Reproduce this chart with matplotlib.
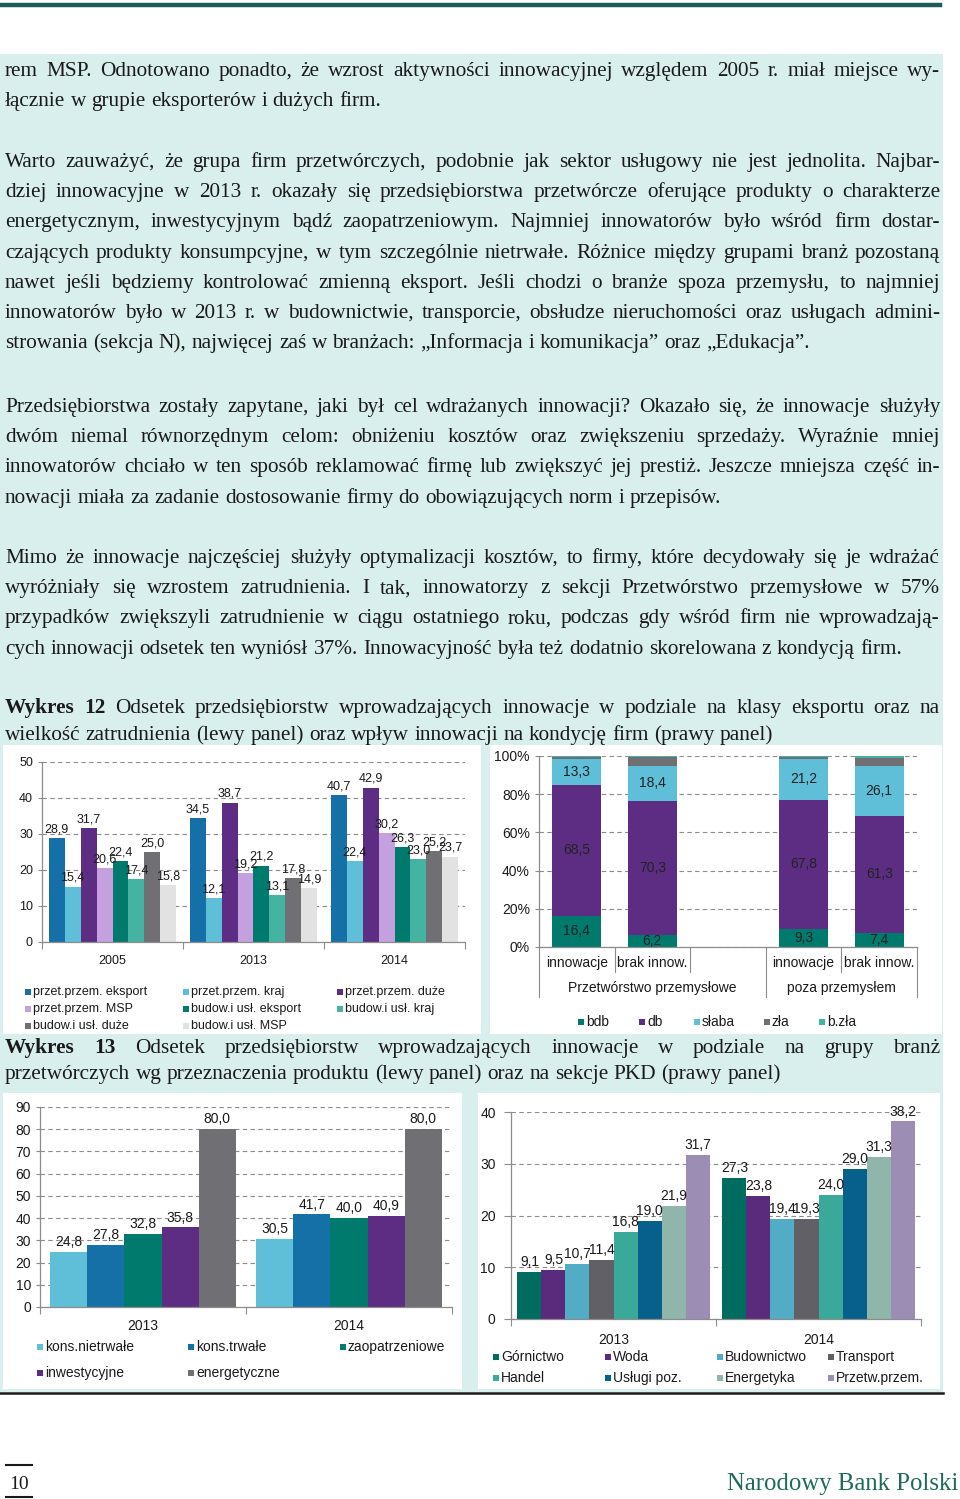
import matplotlib
matplotlib.use('Agg')
import numpy as np
import matplotlib.pyplot as plt
from matplotlib.patches import Rectangle
from matplotlib.lines import Line2D
from matplotlib.transforms import blended_transform_factory

# ---- page text ----
par1 = ["rem MSP. Odnotowano ponadto, że wzrost aktywności innowacyjnej względem 2005 r. miał miejsce wy-",
        "łącznie w grupie eksporterów i dużych firm."]
par2 = ["Warto zauważyć, że grupa firm przetwórczych, podobnie jak sektor usługowy nie jest jednolita. Najbar-",
        "dziej innowacyjne w 2013 r. okazały się przedsiębiorstwa przetwórcze oferujące produkty o charakterze",
        "energetycznym, inwestycyjnym bądź zaopatrzeniowym. Najmniej innowatorów było wśród firm dostar-",
        "czających produkty konsumpcyjne, w tym szczególnie nietrwałe. Różnice między grupami branż pozostaną",
        "nawet jeśli będziemy kontrolować zmienną eksport. Jeśli chodzi o branże spoza przemysłu, to najmniej",
        "innowatorów było w 2013 r. w budownictwie, transporcie, obsłudze nieruchomości oraz usługach admini-",
        "strowania (sekcja N), najwięcej zaś w branżach: „Informacja i komunikacja” oraz „Edukacja”."]
par3 = ["Przedsiębiorstwa zostały zapytane, jaki był cel wdrażanych innowacji? Okazało się, że innowacje służyły",
        "dwóm niemal równorzędnym celom: obniżeniu kosztów oraz zwiększeniu sprzedaży. Wyraźnie mniej",
        "innowatorów chciało w ten sposób reklamować firmę lub zwiększyć jej prestiż. Jeszcze mniejsza część in-",
        "nowacji miała za zadanie dostosowanie firmy do obowiązujących norm i przepisów."]
par4 = ["Mimo że innowacje najczęściej służyły optymalizacji kosztów, to firmy, które decydowały się je wdrażać",
        "wyróżniały się wzrostem zatrudnienia. I tak, innowatorzy z sekcji Przetwórstwo przemysłowe w 57%",
        "przypadków zwiększyli zatrudnienie w ciągu ostatniego roku, podczas gdy wśród firm nie wprowadzają-",
        "cych innowacji odsetek ten wyniósł 37%. Innowacyjność była też dodatnio skorelowana z kondycją firm."]
title12 = ["Wykres 12 Odsetek przedsiębiorstw wprowadzających innowacje w podziale na klasy eksportu oraz na",
           "wielkość zatrudnienia (lewy panel) oraz wpływ innowacji na kondycję firm (prawy panel)"]
title13 = ["Wykres 13 Odsetek przedsiębiorstw wprowadzających innowacje w podziale na grupy branż",
           "przetwórczych wg przeznaczenia produktu (lewy panel) oraz na sekcje PKD (prawy panel)"]

# ---- chart data ----
years12 = ['2005', '2013', '2014']
series12 = ['przet.przem. eksport', 'przet.przem. kraj', 'przet.przem. duże', 'przet.przem. MSP',
            'budow.i usł. eksport', 'budow.i usł. kraj', 'budow.i usł. duże', 'budow.i usł. MSP']
vals12 = [[28.9, 34.5, 40.7],
          [15.4, 12.1, 22.4],
          [31.7, 38.7, 42.9],
          [20.6, 19.2, 30.2],
          [22.4, 21.2, 26.3],
          [17.4, 13.1, 23.0],
          [25.0, 17.8, 25.2],
          [15.8, 14.9, 23.7]]
cols12 = ['#1670a8', '#5fbfd8', '#5c2d82', '#c5a0de', '#007a6c', '#45b3a1', '#707074', '#e2e2e2']

cond_groups = ['Przetwórstwo przemysłowe', 'poza przemysłem']
cond_cats = ['innowacje', 'brak innow.', 'innowacje', 'brak innow.']
cond_series = ['bdb', 'db', 'słaba', 'zła', 'b.zła']
cond_vals = [[16.4, 6.2, 9.3, 7.4],
             [68.5, 70.3, 67.8, 61.3],
             [13.3, 18.4, 21.2, 26.1],
             [1.5, 4.5, 1.4, 4.2],
             [0.3, 0.6, 0.3, 1.0]]
cond_cols = ['#007a6c', '#5c2d82', '#5fbfd8', '#707074', '#45b3a1']

years13 = ['2013', '2014']
prod_series = ['kons.nietrwałe', 'kons.trwałe', 'zaopatrzeniowe', 'inwestycyjne', 'energetyczne']
prod_vals = [[24.8, 30.5],
             [27.8, 41.7],
             [32.8, 40.0],
             [35.8, 40.9],
             [80.0, 80.0]]
prod_cols = ['#5fbfd8', '#1670a8', '#007a6c', '#5c2d82', '#707074']

pkd_series = ['Górnictwo', 'Woda', 'Budownictwo', 'Transport', 'Handel', 'Usługi poz.', 'Energetyka', 'Przetw.przem.']
pkd_vals = [[9.1, 27.3],
            [9.5, 23.8],
            [10.7, 19.4],
            [11.4, 19.3],
            [16.8, 24.0],
            [19.0, 29.0],
            [21.9, 31.3],
            [31.7, 38.2]]
pkd_cols = ['#006b5f', '#5a2a7c', '#52acc6', '#606066', '#3aa99a', '#075f8c', '#90b5ab', '#9c8db4']

W, H = 960, 1499
SERIF = 'Liberation Serif'
SANS = 'Liberation Sans'
TXT = '#1a1a1a'
TEAL_BG = '#d9efed'
GRID = '#8c8c8c'

fig = plt.figure(figsize=(W / 100, H / 100), dpi=100)
fig.patch.set_facecolor('white')
renderer = fig.canvas.get_renderer()


def fx(x):
    return x / W


def fy(y):
    return 1 - y / H


def frect(x0, y0, x1, y1, color, z=0):
    fig.add_artist(Rectangle((fx(x0), fy(y1)), (x1 - x0) / W, (y1 - y0) / H,
                             transform=fig.transFigure, facecolor=color, edgecolor='none', zorder=z))


def fline(x0, y0, x1, y1, color, lw, z=1):
    fig.add_artist(Line2D([fx(x0), fx(x1)], [fy(y0), fy(y1)], transform=fig.transFigure,
                          color=color, lw=lw, zorder=z))


def add_ax(x0, y0, x1, y1):
    return fig.add_axes([fx(x0), fy(y1), (x1 - x0) / W, (y1 - y0) / H])


def text_line(s, y, justify=True, bold=0, x0=5, x1=940, size=15.3):
    words = s.split(' ')
    arts = []
    for i, w in enumerate(words):
        arts.append(fig.text(fx(x0), fy(y), w, fontsize=size, family=SERIF, color=TXT,
                             fontweight='bold' if i < bold else 'normal', va='baseline', zorder=3))
    widths = [a.get_window_extent(renderer).width for a in arts]
    sp = fig.text(0, 0, 'a a', fontsize=size, family=SERIF)
    nsp = fig.text(0, 0, 'aa', fontsize=size, family=SERIF)
    space = sp.get_window_extent(renderer).width - nsp.get_window_extent(renderer).width
    sp.remove()
    nsp.remove()
    gap = space
    if justify and len(words) > 1:
        gap = (x1 - x0 - sum(widths)) / (len(words) - 1)
    x = x0
    for a, w in zip(arts, widths):
        a.set_x(fx(x))
        x += w + gap


def paragraph(lines, y0, step=30.2, bold=0):
    for i, s in enumerate(lines):
        text_line(s, y0 + i * step, justify=(i < len(lines) - 1), bold=bold if i == 0 else 0)


def legend(items, colors, xs, ys, size=9):
    k = 0
    for y in ys:
        for x in xs:
            if k >= len(items):
                return
            frect(x, y - 3, x + 6, y + 3, colors[k], z=3)
            fig.text(fx(x + 8), fy(y), items[k], fontsize=size, family=SANS, color=TXT,
                     va='center', ha='left', zorder=3)
            k += 1


def style_ax(ax, ymax, step, size, pct=False):
    ax.set_facecolor('none')
    ax.set_ylim(0, ymax)
    ticks = np.arange(0, ymax + 0.1, step)
    ax.set_yticks(ticks)
    if pct:
        ax.set_yticklabels([f'{int(t)}%' for t in ticks])
    for s in ['top', 'right']:
        ax.spines[s].set_visible(False)
    for s in ['left', 'bottom']:
        ax.spines[s].set_color(GRID)
        ax.spines[s].set_linewidth(0.9)
    ax.yaxis.grid(True, color=GRID, linestyle=(0, (4, 3)), linewidth=0.8)
    ax.set_axisbelow(True)
    ax.tick_params(axis='y', labelsize=size, colors=GRID, labelcolor=TXT, length=3, width=0.8)
    for lab in ax.get_yticklabels():
        lab.set_family(SANS)


def fmt(v):
    return f'{v:.1f}'.replace('.', ',')


def grouped(ax, cats, vals, cols, group_w, size):
    n = len(vals)
    bw = group_w / n
    x = np.arange(len(cats))
    for j, (v, c) in enumerate(zip(vals, cols)):
        xs = x + (j - (n - 1) / 2) * bw
        ax.bar(xs, v, bw, color=c, zorder=2)
        for xi, vi in zip(xs, v):
            ax.annotate(fmt(vi), (xi, vi), xytext=(0, 2), textcoords='offset points',
                        ha='center', va='bottom', fontsize=size, family=SANS, color=TXT, zorder=4)
    ax.set_xlim(-0.5, len(cats) - 0.5)
    ax.set_xticks(x)
    ax.set_xticklabels(cats, family=SANS, fontsize=size, color=TXT)
    ax.set_xticks(np.arange(len(cats) + 1) - 0.5, minor=True)
    ax.tick_params(axis='x', which='major', length=0, pad=9)
    ax.tick_params(axis='x', which='minor', length=5, color=GRID, width=0.8)


# ---- page furniture ----
fline(0, 4.5, 940, 4.5, '#1d5c5a', 3.2)
frect(0, 54, 943, 1392, TEAL_BG, z=-2)
fline(0, 1392.5, 943, 1392.5, '#1a1a1a', 1.8)

paragraph(par1, 76)
paragraph(par2, 167)
paragraph(par3, 412)
paragraph(par4, 563)
paragraph(title12, 713, step=27, bold=2)
paragraph(title13, 1053, step=26, bold=2)

# white chart panels
frect(3, 745, 481, 1034, 'white', z=-1)
frect(490, 745, 942, 1034, 'white', z=-1)
frect(3, 1093, 462, 1389, 'white', z=-1)
frect(478, 1093, 940, 1389, 'white', z=-1)

# ---- Wykres 12, left ----
ax1 = add_ax(42, 762, 465, 942)
style_ax(ax1, 50, 10, 9)
grouped(ax1, years12, vals12, cols12, 0.906, 9)
legend(series12, cols12, [25, 183, 337], [992, 1009, 1026], size=9)

# ---- Wykres 12, right ----
F2 = 10
ax2 = add_ax(539, 756, 917, 947)
style_ax(ax2, 100, 20, F2, pct=True)
pos = [0, 1, 3, 4]
bottom = np.zeros(len(pos))
for k, (v, c) in enumerate(zip(cond_vals, cond_cols)):
    v = np.array(v)
    ax2.bar(pos, v, 0.65, bottom=bottom, color=c, zorder=2)
    if k < 3:
        for p, b, vi in zip(pos, bottom, v):
            ax2.text(p, b + vi / 2, fmt(vi), ha='center', va='center', fontsize=F2,
                     family=SANS, color='#222222', zorder=4)
    bottom += v
ax2.set_xlim(-0.5, 4.5)
ax2.set_xticks([])
tr = blended_transform_factory(ax2.transData, ax2.transAxes)
for p, lab in zip(pos, cond_cats):
    ax2.text(p, -0.085, lab, transform=tr, ha='center', va='center', fontsize=F2,
             family=SANS, color=TXT)
for xb in [0.5, 1.5, 3.5]:
    ax2.plot([xb, xb], [0, -0.13], transform=tr, color=GRID, lw=0.8, clip_on=False)
for xb in [-0.5, 2.5, 4.5]:
    ax2.plot([xb, xb], [0, -0.26], transform=tr, color=GRID, lw=0.8, clip_on=False)
ax2.text(1.0, -0.215, cond_groups[0], transform=tr, ha='center', va='center', fontsize=F2,
         family=SANS, color=TXT)
ax2.text(3.5, -0.215, cond_groups[1], transform=tr, ha='center', va='center', fontsize=F2,
         family=SANS, color=TXT)
legend(cond_series, cond_cols, [578, 639, 694, 764, 819], [1022], size=F2)

# ---- Wykres 13, left ----
F3 = 10
ax3 = add_ax(40, 1107, 452, 1307)
style_ax(ax3, 90, 10, F3)
grouped(ax3, years13, prod_vals, prod_cols, 0.9, F3)
ax3.tick_params(axis='x', which='major', pad=9)
legend(prod_series, prod_cols, [37, 188, 340], [1347, 1373], size=F3)

# ---- Wykres 13, right ----
ax4 = add_ax(511, 1112, 921, 1319)
style_ax(ax4, 40, 10, F3)
grouped(ax4, years13, pkd_vals, pkd_cols, 0.937, F3)
ax4.tick_params(axis='y', length=5, pad=6)
ax4.tick_params(axis='x', which='major', pad=10)
legend(pkd_series, pkd_cols, [493, 605, 717, 828], [1357, 1378], size=F3)

# ---- footer ----
fline(6, 1465, 32, 1465, '#1a1a1a', 1.5)
fline(6, 1497, 32, 1497, '#1a1a1a', 1.5)
fig.text(fx(9), fy(1489), '10', fontsize=14, family=SERIF, color=TXT, va='baseline')
fig.text(fx(958), fy(1490), 'Narodowy Bank Polski', fontsize=17.8, family=SERIF,
         color='#1e6b5c', va='baseline', ha='right')

fig.savefig('out.png', dpi=100)
